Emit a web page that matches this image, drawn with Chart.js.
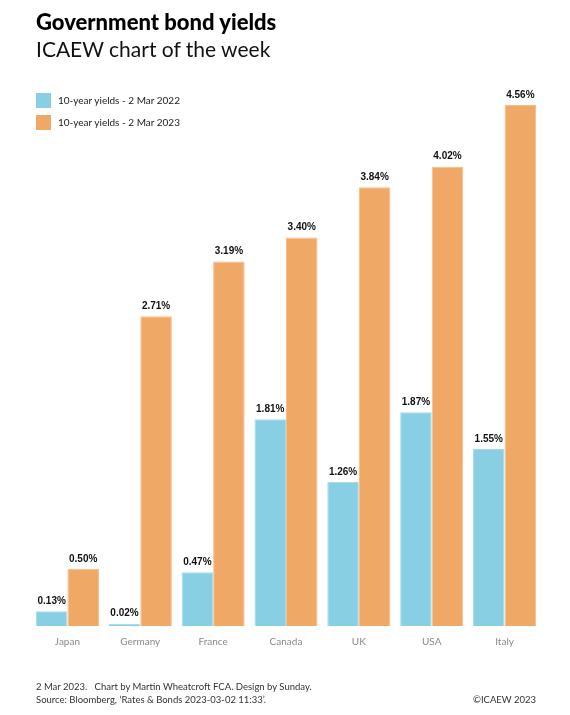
<!DOCTYPE html>
<html>
<head>
<meta charset="utf-8">
<script src="https://cdn.jsdelivr.net/npm/chart.js@4"></script>
<style>
  body { margin: 0; background: #fff; font-family: "Lato", "Open Sans", sans-serif; }
  #wrap { position: relative; width: 570px; height: 715px; }
  #chart { position: absolute; left: 0; top: 0; }
  .title { position: absolute; left: 36px; top: 8px; font-size: 22px; font-weight: 900; color: #000; }
  .subtitle { position: absolute; left: 36px; top: 36px; font-size: 21px; font-weight: 400; color: #111; }
  #legend { position: absolute; left: 36px; top: 89px; font-size: 10px; color: #222; }
  .item { display: flex; align-items: center; height: 22px; }
  .box { width: 15px; height: 15px; margin-right: 7px; }
  .foot { position: absolute; font-size: 9.5px; color: #333; }
</style>
</head>
<body>
<div id="wrap">
  <canvas id="chart" width="570" height="715"></canvas>
  <div class="title">Government bond yields</div>
  <div class="subtitle">ICAEW chart of the week</div>
  <div id="legend"></div>
  <div class="foot" style="left:36px; top:681px;">2 Mar 2023.&nbsp;&nbsp; Chart by Martin Wheatcroft FCA. Design by Sunday.</div>
  <div class="foot" style="left:36px; top:694px;">Source: Bloomberg, ‘Rates &amp; Bonds 2023-03-02 11:33’.</div>
  <div class="foot" style="right:34px; top:694px;">©ICAEW 2023</div>
</div>
<script>
// datos
const paises = ["Japan", "Germany", "France", "Canada", "UK", "USA", "Italy"];
const yields2022 = [0.13, 0.02, 0.47, 1.81, 1.26, 1.87, 1.55];
const yields2023 = [0.50, 2.71, 3.19, 3.40, 3.84, 4.02, 4.56];
const etiquetas = ["10-year yields - 2 Mar 2022", "10-year yields - 2 Mar 2023"];
const colores = ["#88cfe3", "#efa866"];
const bordes = ["#a6dcea", "#f4bd8a"];

// etiquetas de valor encima de cada barra
const valorLabels = {
  id: "valorLabels",
  afterDatasetsDraw(chart) {
    const ctx = chart.ctx;
    ctx.save();
    ctx.font = "bold 10px 'Liberation Sans', Arial, sans-serif";
    ctx.fillStyle = "#111";
    ctx.textAlign = "center";
    ctx.textBaseline = "bottom";
    chart.data.datasets.forEach((ds, i) => {
      chart.getDatasetMeta(i).data.forEach((bar, j) => {
        ctx.fillText(ds.data[j].toFixed(2) + "%", bar.x, bar.y - 5);
      });
    });
    ctx.restore();
  }
};

const legend = document.getElementById("legend");
etiquetas.forEach((txt, i) => {
  legend.innerHTML += `<div class="item"><div class="box" style="background:${colores[i]}"></div>${txt}</div>`;
});

new Chart(document.getElementById("chart"), {
  type: "bar",
  data: {
    labels: paises,
    datasets: [
      { label: etiquetas[0], data: yields2022, backgroundColor: colores[0], borderColor: bordes[0], borderWidth: 1 },
      { label: etiquetas[1], data: yields2023, backgroundColor: colores[1], borderColor: bordes[1], borderWidth: 1 }
    ]
  },
  options: {
    responsive: false,
    animation: false,
    events: [],
    layout: { padding: { left: 31, right: 29, top: 89, bottom: 65 } },
    datasets: { bar: { categoryPercentage: 0.866, barPercentage: 1.0 } },
    plugins: { legend: { display: false }, tooltip: { enabled: false } },
    scales: {
      x: {
        grid: { display: false },
        border: { display: false },
        ticks: { color: "#8a8a8a", font: { size: 10, family: "Lato" }, padding: 2 }
      },
      y: { display: false, min: 0, max: 4.7 }
    }
  },
  plugins: [valorLabels]
});
</script>
</body>
</html>
